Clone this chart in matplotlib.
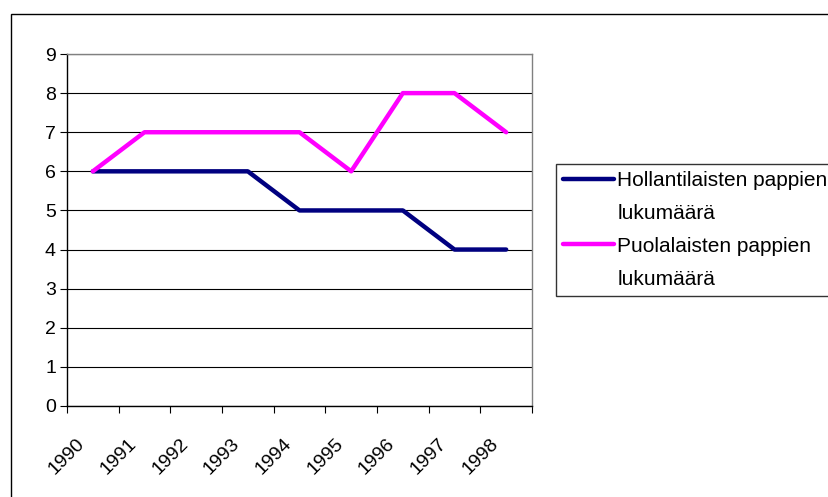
import matplotlib.pyplot as plt
from matplotlib.lines import Line2D
from matplotlib.patches import Rectangle


YEARS = ["1990", "1991", "1992", "1993", "1994", "1995", "1996", "1997", "1998"]
HOLLANTI = [6, 6, 6, 6, 5, 5, 5, 4, 4]
PUOLA = [6, 7, 7, 7, 7, 6, 8, 8, 7]

LABEL_HOLLANTI = ["Hollantilaisten pappien", "lukumäärä"]
LABEL_PUOLA = ["Puolalaisten pappien", "lukumäärä"]

NAVY = "#000080"
PINK = "#FF00FF"

W, H = 829, 497


def main():
    plt.rcParams["font.family"] = ["Liberation Sans", "DejaVu Sans"]

    fig = plt.figure(figsize=(W / 100, H / 100), dpi=100)

    # outer chart frame, cut by the image edges on the right and bottom
    frame = Rectangle((11 / W, -0.1), 1.2, 1.1 - 14 / H,
                      transform=fig.transFigure, fill=False,
                      edgecolor="black", linewidth=1.0, clip_on=False)
    fig.patches.append(frame)

    ax = fig.add_axes([67 / W, 1 - 406 / H, (532 - 67) / W, (406 - 54) / H])

    # points sit in the middle of each category slot
    x = [i + 0.5 for i in range(len(YEARS))]
    line_h, = ax.plot(x, HOLLANTI, color=NAVY, linewidth=3.2,
                      solid_capstyle="round", solid_joinstyle="round")
    line_p, = ax.plot(x, PUOLA, color=PINK, linewidth=3.2,
                      solid_capstyle="round", solid_joinstyle="round")

    ax.set_xlim(0, len(YEARS))
    ax.set_ylim(0, 9)

    ax.set_yticks(range(0, 10))
    # the rotated year labels are centred on the slot boundaries, like the original
    ax.set_xticks(range(0, len(YEARS) + 1))
    ax.set_xticklabels(YEARS + [""], rotation=45, ha="center", va="center",
                       rotation_mode="anchor", fontsize=14)

    ax.tick_params(axis="x", direction="out", length=5, width=0.8,
                   color="black", pad=31.5)
    ax.tick_params(axis="y", direction="out", length=5, width=0.8,
                   color="black", labelsize=14, pad=3)

    ax.grid(True, axis="y", color="black", linewidth=0.8)
    ax.set_axisbelow(True)

    ax.spines["top"].set_color("#808080")
    ax.spines["right"].set_color("#808080")
    ax.spines["left"].set_color("black")
    ax.spines["bottom"].set_color("black")
    for side in ax.spines:
        ax.spines[side].set_linewidth(1.0)

    blank = Line2D([], [], color="none")
    handles = [line_h, blank, line_p, blank]
    labels = [LABEL_HOLLANTI[0], LABEL_HOLLANTI[1], LABEL_PUOLA[0], LABEL_PUOLA[1]]
    leg = fig.legend(handles, labels, loc="upper left",
                     bbox_to_anchor=(556 / W, 1 - 164 / H),
                     fontsize=15, frameon=True, fancybox=False,
                     edgecolor="black", handlelength=2.45, handletextpad=0.15,
                     borderpad=0.35, labelspacing=0.66, borderaxespad=0)
    leg.get_frame().set_linewidth(1.0)

    fig.savefig("out.png", dpi=100)
    plt.close(fig)


if __name__ == "__main__":
    main()
